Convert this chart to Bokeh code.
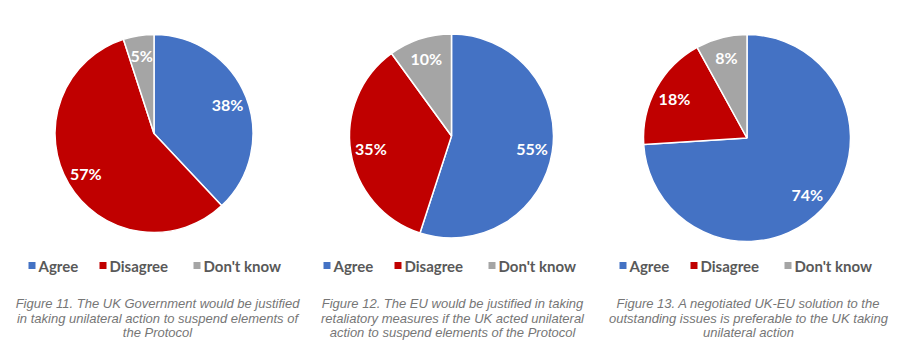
import math
from bokeh.plotting import figure
from bokeh.models import ColumnDataSource, Range1d
from bokeh.core.properties import value
from bokeh.embed import file_html
from bokeh.resources import INLINE

categories = ["Agree", "Disagree", "Don't know"]
fig11_values = [38, 57, 5]
fig12_values = [55, 35, 10]
fig13_values = [74, 18, 8]
captions = [
    ["Figure 11. The UK Government would be justified",
     "in taking unilateral action to suspend elements of",
     "the Protocol"],
    ["Figure 12. The EU would be justified in taking",
     "retaliatory measures if the UK acted unilateral",
     "action to suspend elements of the Protocol"],
    ["Figure 13. A negotiated UK-EU solution to the",
     "outstanding issues is preferable to the UK taking",
     "unilateral action"],
]

colors = ["#4472C4", "#C00000", "#A5A5A5"]
W, H = 914, 355

p = figure(width=W, height=H, output_backend="svg", toolbar_location=None,
           x_range=Range1d(0, W), y_range=Range1d(0, H), min_border=0)
p.axis.visible = False
p.grid.visible = False
p.outline_line_color = None
p.background_fill_color = "white"
p.border_fill_color = "white"

# layout: pie centres (screen px), radii, legend start x, caption centre x
pies = [
    dict(vals=fig11_values, cx=153.5, cy=133, r=99, lx=28, capx=157),
    dict(vals=fig12_values, cx=451, cy=135.5, r=102, lx=323, capx=452),
    dict(vals=fig13_values, cx=746.5, cy=137.5, r=103.5, lx=619, capx=748),
]

def Y(sy):
    return H - sy

for i, pie in enumerate(pies):
    vals = pie["vals"]
    total = float(sum(vals))
    starts, ends, lxs, lys, labels = [], [], [], [], []
    cum = 0.0
    for v in vals:
        a0 = math.pi / 2 - cum / total * 2 * math.pi
        a1 = math.pi / 2 - (cum + v) / total * 2 * math.pi
        mid = (a0 + a1) / 2
        starts.append(a0)
        ends.append(a1)
        lxs.append(pie["cx"] + 0.8 * pie["r"] * math.cos(mid))
        lys.append(Y(pie["cy"]) + 0.8 * pie["r"] * math.sin(mid))
        labels.append(f"{v}%")
        cum += v
    src = ColumnDataSource(dict(start=starts, end=ends, color=colors,
                                lx=lxs, ly=lys, label=labels,
                                x=[pie["cx"]] * 3, y=[Y(pie["cy"])] * 3))
    p.wedge(x="x", y="y", radius=pie["r"], start_angle="start", end_angle="end",
            direction="clock", fill_color="color", line_color="white",
            line_width=1.5, source=src)
    p.text(x="lx", y="ly", text="label", source=src, text_color="white",
           text_font=value("Lato"), text_font_style="bold",
           text_font_size="16px", text_align="center", text_baseline="middle")

    # legend
    offsets = [0, 71, 165]
    ly = Y(265)
    for k, cat in enumerate(categories):
        x0 = pie["lx"] + offsets[k]
        p.rect(x=[x0 + 3.5], y=[ly], width=7, height=7, fill_color=colors[k],
               line_color=None)
        p.text(x=[x0 + 10], y=[ly], text=[cat], text_color="#595959",
               text_font=value("Lato"), text_font_style="bold",
               text_font_size="15px",
               text_align="left", text_baseline="middle")

    # caption
    for j, line in enumerate(captions[i]):
        p.text(x=[pie["capx"]], y=[Y(303 + j * 14.5)], text=[line],
               text_color="#767676", text_font=value("Liberation Sans"),
               text_font_style="italic", text_font_size="13px",
               text_align="center", text_baseline="middle")

open("out.html", "w").write(file_html(p, INLINE))
